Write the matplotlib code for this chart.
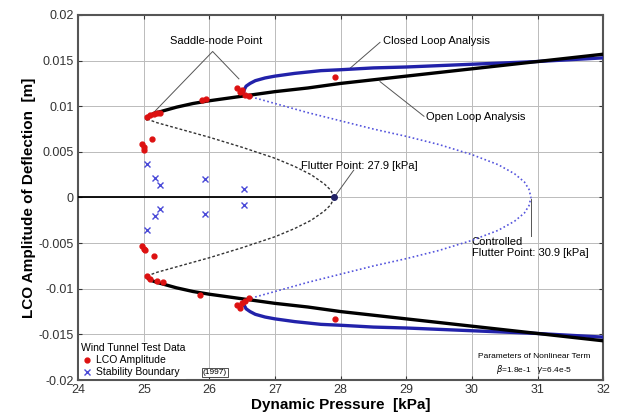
import matplotlib
matplotlib.use("Agg")
import matplotlib.pyplot as plt

plt.rcParams['font.family'] = ['Liberation Sans', 'DejaVu Sans']

# Open-loop analysis: stable LCO branch (upper half; lower half mirrored)
ol_stable_q = [25.05, 25.07, 25.12, 25.2, 25.35, 25.5, 25.75, 26.0, 26.5, 27.0, 27.5, 28.0, 29.0, 30.0, 31.0, 32.0]
ol_stable_a = [0.0086, 0.0089, 0.0091, 0.0093, 0.0096, 0.0099, 0.0103, 0.0106, 0.0111, 0.0116, 0.0120, 0.0125, 0.0133, 0.0141, 0.0149, 0.0157]
# Open-loop unstable branch (saddle-node -> flutter point)
ol_unst_q = [25.05, 25.2, 25.5, 26.0, 26.5, 27.0, 27.3, 27.55, 27.75, 27.85, 27.9]
ol_unst_a = [0.0086, 0.0082, 0.0076, 0.0066, 0.0055, 0.0043, 0.0034, 0.0025, 0.0015, 0.0008, 0.0]
# Closed-loop analysis: stable branch
cl_stable_q = [26.52, 26.53, 26.56, 26.62, 26.7, 26.85, 27.0, 27.3, 27.7, 28.0, 28.5, 29.0, 30.0, 31.0, 32.0]
cl_stable_a = [0.0114, 0.0118, 0.0122, 0.0125, 0.0128, 0.0131, 0.0133, 0.0136, 0.0139, 0.0140, 0.0142, 0.0143, 0.0146, 0.0149, 0.0153]
# Closed-loop unstable branch
cl_unst_q = [26.52, 26.7, 27.0, 27.5, 28.0, 28.5, 29.0, 29.5, 30.0, 30.4, 30.65, 30.8, 30.87, 30.9]
cl_unst_a = [0.0114, 0.0109, 0.0103, 0.0093, 0.0084, 0.0075, 0.0067, 0.0058, 0.0047, 0.0036, 0.0026, 0.0017, 0.0009, 0.0]

flutter_q = 27.9
ctrl_flutter_q = 30.9

# Wind tunnel test data (1997)
lco_q = [24.97, 25.0, 25.0, 25.13, 25.05, 25.1, 25.15, 25.2, 25.25, 25.89, 25.95, 26.42, 26.47, 26.5, 26.55, 26.6, 27.92,
         24.97, 25.0, 25.02, 25.15, 25.05, 25.1, 25.2, 25.3, 25.85, 26.42, 26.47, 26.5, 26.55, 26.6, 27.92]
lco_a = [0.0059, 0.0055, 0.0052, 0.0064, 0.0088, 0.0090, 0.0092, 0.0093, 0.0093, 0.0107, 0.0108, 0.0120, 0.0116, 0.0118, 0.0112, 0.0111, 0.0132,
         -0.0053, -0.0056, -0.0058, -0.0064, -0.0086, -0.0089, -0.0091, -0.0093, -0.0107, -0.0118, -0.0121, -0.0116, -0.0113, -0.0110, -0.0133]
stab_q = [25.05, 25.17, 25.25, 25.94, 26.52, 25.05, 25.17, 25.25, 25.94, 26.52]
stab_a = [0.0037, 0.0021, 0.0014, 0.0020, 0.0009, -0.0036, -0.0020, -0.0013, -0.0018, -0.0008]

xticks = [24, 25, 26, 27, 28, 29, 30, 31, 32]
yticks = [-0.02, -0.015, -0.01, -0.005, 0, 0.005, 0.01, 0.015, 0.02]
ytick_labels = ['-0.02', '-0.015', '-0.01', '-0.005', '0', '0.005', '0.01', '0.015', '0.02']

fig = plt.figure(figsize=(6.25, 4.16), dpi=100)
ax = fig.add_axes([0.125, 0.0865, 0.84, 0.8775])

ax.set_xlim(24, 32)
ax.set_ylim(-0.02, 0.02)
ax.set_xticks(xticks)
ax.set_xticklabels([str(t) for t in xticks], fontsize=9)
ax.set_yticks(yticks)
ax.set_yticklabels(ytick_labels, fontsize=9)
ax.tick_params(direction='in', top=True, right=True, length=3, width=0.8, colors='#333333', pad=3)
ax.grid(True, color='#bbbbbb', linewidth=0.7)
ax.set_axisbelow(True)
for s in ax.spines.values():
    s.set_linewidth(1.5)
    s.set_color('#555555')

blue = '#2222aa'
# zero (stable) branch for open loop
ax.plot([24, flutter_q], [0, 0], color='black', lw=1.3, zorder=3)

for sign in (1, -1):
    ax.plot(cl_stable_q, [sign * a for a in cl_stable_a], color=blue, lw=2.4, zorder=4, solid_capstyle='round')
    ax.plot(cl_unst_q, [sign * a for a in cl_unst_a], color='#5555dd', lw=1.2, ls=(0, (1, 1.5)), zorder=4)
    ax.plot(ol_stable_q, [sign * a for a in ol_stable_a], color='black', lw=2.4, zorder=5, solid_capstyle='round')
    ax.plot(ol_unst_q, [sign * a for a in ol_unst_a], color='#333333', lw=1.0, ls=(0, (2, 1.5)), zorder=5)

ax.plot([flutter_q], [0], 'o', color='#222266', ms=4, zorder=6)

ax.plot(lco_q, lco_a, 'o', color='#dd1111', ms=3.5, ls='none', zorder=7, label='LCO Amplitude')
ax.plot(stab_q, stab_a, 'x', color='#4a4ad8', ms=5, mew=1.0, ls='none', zorder=7, label='Stability Boundary')

ann = dict(color='#555555', lw=0.7)
fs = 8
# Saddle-node
ax.text(26.1, 0.0171, 'Saddle-node Point', fontsize=fs, ha='center', va='center')
ax.plot([25.15, 26.05, 26.45], [0.0093, 0.0160, 0.0130], **ann)
# Closed loop
ax.text(28.65, 0.0171, 'Closed Loop Analysis', fontsize=fs, ha='left', va='center')
ax.plot([28.6, 28.15], [0.0170, 0.0142], **ann)
# Open loop
ax.text(29.3, 0.0088, 'Open Loop Analysis', fontsize=fs, ha='left', va='center')
ax.plot([29.27, 28.6], [0.0089, 0.0127], **ann)
# Flutter point
ax.text(27.4, 0.0035, 'Flutter Point: 27.9 [kPa]', fontsize=fs, ha='left', va='center')
ax.plot([28.2, 27.92], [0.0030, 0.0002], **ann)
# Controlled flutter
ax.text(30.0, -0.0055, 'Controlled\nFlutter Point: 30.9 [kPa]', fontsize=fs, ha='left', va='center', linespacing=1.05)
ax.plot([ctrl_flutter_q, ctrl_flutter_q], [-0.0002, -0.0042], **ann)
# Parameters
ax.text(30.95, -0.0174, 'Parameters of Nonlinear Term', fontsize=6, ha='center', va='center')
ax.text(30.95, -0.0188, r'$\beta$=1.8e-1   $\gamma$=6.4e-5', fontsize=6, ha='center', va='center')

leg = ax.legend(loc='lower left', fontsize=7.5, title='Wind Tunnel Test Data', title_fontsize=7.5,
                frameon=True, framealpha=1, edgecolor='none', borderaxespad=0.1, handletextpad=0.3,
                handlelength=1.2, borderpad=0.15, labelspacing=0.2)
leg._legend_box.align = 'left'
ax.text(25.9, -0.0192, '(1997)', fontsize=6, ha='left', va='center',
        bbox=dict(boxstyle='square,pad=0.15', fc='white', ec='#333333', lw=0.6), zorder=8)

ax.set_xlabel('Dynamic Pressure  [kPa]', fontsize=11, fontweight='bold', labelpad=1)
ax.set_ylabel('LCO Amplitude of Deflection  [m]', fontsize=11, fontweight='bold', labelpad=2)

fig.savefig('out.png', dpi=100)
